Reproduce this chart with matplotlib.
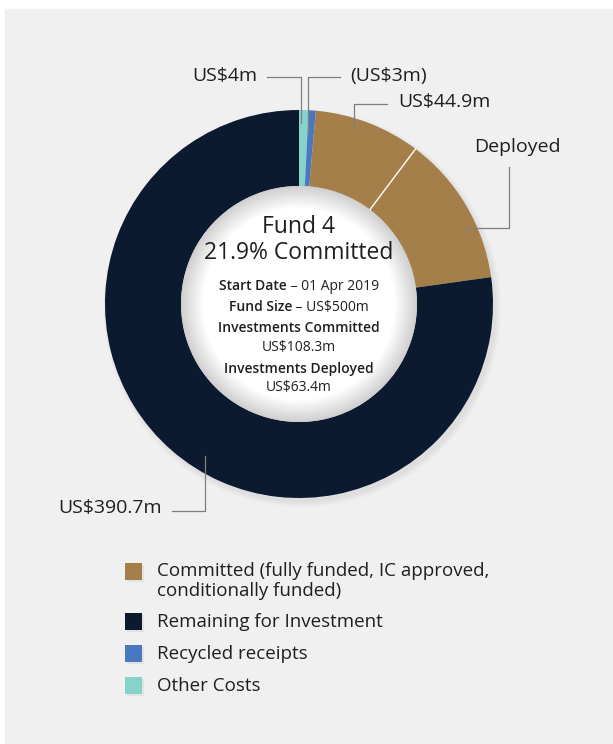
import numpy as np
import matplotlib
matplotlib.use("Agg")
import matplotlib.pyplot as plt
from matplotlib.patches import Rectangle, Circle, Wedge

plt.rcParams['font.family'] = ['Open Sans', 'DejaVu Sans']

# slices, clockwise from 12 o'clock
slice_names = ['Other Costs', 'Recycled receipts', 'Committed (undeployed)', 'Deployed', 'Remaining for Investment']
slice_values = [4.0, 3.0, 44.9, 63.4, 390.7]
slice_colors = ['#86d3cb', '#4a78c0', '#a47f4a', '#a47f4a', '#0b1a2e']

legend_labels = ['Committed (fully funded, IC approved,\nconditionally funded)',
                 'Remaining for Investment', 'Recycled receipts', 'Other Costs']
legend_colors = ['#a47f4a', '#0b1a2e', '#4a78c0', '#86d3cb']

center_lines = ['Fund 4', '21.9% Committed']
detail_lines = [('Start Date', ' – 01 Apr 2019'), ('Fund Size', ' – US$500m')]
detail_pairs = [('Investments Committed', 'US$108.3m'), ('Investments Deployed', 'US$63.4m')]

W, H = 613, 744
fig = plt.figure(figsize=(W / 100, H / 100), dpi=100, facecolor='white')
ax = fig.add_axes([0, 0, 1, 1])

def Y(y):
    # image row -> data y
    return H - y

# grey panel
ax.add_patch(Rectangle((5, 0), W - 5, H - 9, color='#f0f0f0', zorder=0))

cx, cy, R = 299, Y(304), 194
r_in = 118

# soft shadow behind the ring, mostly to the lower right
for k in range(6):
    ax.add_patch(Circle((cx + 3, cy - 4), R + k * 1.0, color='black', alpha=0.01, lw=0, zorder=1))

wedges, _ = ax.pie(slice_values, colors=slice_colors, startangle=90, counterclock=False,
                   center=(cx, cy), radius=R, frame=True,
                   wedgeprops=dict(width=R - r_in, linewidth=0))
for w in wedges:
    w.set_zorder(2)
ax.set_xlim(0, W)
ax.set_ylim(0, H)
ax.axis('off')

# white line between the two brown parts
cum = np.cumsum(slice_values) / sum(slice_values)
th = np.deg2rad(90 - 360 * cum[2])
ax.plot([cx + r_in * np.cos(th), cx + R * np.cos(th)],
        [cy + r_in * np.sin(th), cy + R * np.sin(th)], color='white', lw=1, zorder=3)

# inner white disc with soft inner shadow
ax.add_patch(Circle((cx, cy), r_in, color='white', lw=0, zorder=3))
for k in range(16):
    ax.add_patch(Wedge((cx, cy), r_in, 0, 360, width=1 + k * 1.4, color='black', alpha=0.01, lw=0, zorder=4))

tc = '#1f1f1f'
ax.text(cx, Y(227), center_lines[0], ha='center', va='center', fontsize=16.5, color=tc, zorder=5)
ax.text(cx, Y(253), center_lines[1], ha='center', va='center', fontsize=16.5, color=tc, zorder=5)

fig.canvas.draw()
rend = fig.canvas.get_renderer()
for (b, rest), yy in zip(detail_lines, [286, 307]):
    t1 = ax.text(0, Y(yy), b, fontsize=10, fontweight='semibold', color=tc, va='center', zorder=5)
    t2 = ax.text(0, Y(yy), rest, fontsize=10, color=tc, va='center', zorder=5)
    w1 = t1.get_window_extent(rend).width
    w2 = t2.get_window_extent(rend).width
    x0 = cx - (w1 + w2) / 2
    t1.set_x(x0)
    t2.set_x(x0 + w1)

for (b, v), (y1, y2) in zip(detail_pairs, [(328, 347), (369, 387)]):
    ax.text(cx, Y(y1), b, ha='center', va='center', fontsize=10, fontweight='semibold', color=tc, zorder=5)
    ax.text(cx, Y(y2), v, ha='center', va='center', fontsize=10, color=tc, zorder=5)

# leader lines and labels
lc = '#7f7f7f'
lk = dict(color=lc, lw=0.9, zorder=6)
ax.plot([267, 301, 301], [Y(77), Y(77), Y(123)], **lk)
ax.plot([340, 308, 308], [Y(77), Y(77), Y(133)], **lk)
ax.plot([387, 354, 354], [Y(104), Y(104), Y(128)], **lk)
ax.plot([509, 509, 464], [Y(167), Y(228), Y(228)], **lk)
ax.plot([172, 205, 205], [Y(511), Y(511), Y(456)], **lk)

fs = 14
ax.text(257, Y(76), 'US$4m', ha='right', va='center', fontsize=fs, color=tc)
ax.text(350, Y(76), '(US$3m)', ha='left', va='center', fontsize=fs, color=tc)
ax.text(398, Y(102), 'US$44.9m', ha='left', va='center', fontsize=fs, color=tc)
ax.text(474, Y(147), 'Deployed', ha='left', va='center', fontsize=fs, color=tc)
ax.text(162, Y(508), 'US$390.7m', ha='right', va='center', fontsize=fs, color=tc)

# legend
sq_y = [571, 621, 653, 685]
txt_y = [581, 622, 654, 686]
for lab, col, sy, ty in zip(legend_labels, legend_colors, sq_y, txt_y):
    ax.add_patch(Rectangle((127, Y(sy) - 11), 17, 17, color='black', alpha=0.05, lw=0))
    ax.add_patch(Rectangle((125, Y(sy) - 8.5), 17, 17, color=col, lw=0))
    ax.text(157, Y(ty), lab, ha='left', va='center', fontsize=13.5, color=tc, linespacing=1.1)

fig.savefig('out.png', dpi=100, facecolor='white')
